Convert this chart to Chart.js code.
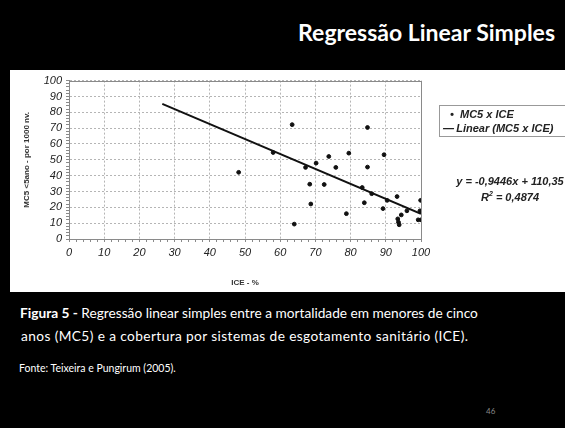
<!DOCTYPE html>
<html>
<head>
<meta charset="utf-8">
<script src="https://cdn.jsdelivr.net/npm/chart.js@4.4.1/dist/chart.umd.min.js"></script>
<style>
  html,body{margin:0;padding:0;background:#000;}
  body{width:565px;height:428px;position:relative;overflow:hidden;font-family:Lato,"Open Sans",sans-serif;}
  #title{position:absolute;right:10px;top:18px;color:#fff;font-weight:bold;font-size:23px;font-family:Lato,sans-serif;}
  #panel{position:absolute;left:10px;top:70px;width:555px;height:222px;background:#fff;}
  #cv{position:absolute;left:0;top:0;}
  #legend{position:absolute;left:429px;top:35px;width:130px;height:30px;border:1px solid #999;font:italic bold 11px "Liberation Sans",Arial,sans-serif;color:#222;}
  #legend div{position:absolute;white-space:nowrap;}
  #eq{position:absolute;left:440px;top:103px;width:120px;text-align:center;font:italic bold 11px "Liberation Sans",Arial,sans-serif;color:#222;line-height:16px;}
  .cap{position:absolute;color:#fff;font-size:13.7px;white-space:nowrap;}
  #pg{position:absolute;left:486px;top:406px;color:#888;font-size:8px;}
</style>
</head>
<body>
<div id="title">Regressão Linear Simples</div>
<div id="panel">
  <canvas id="cv" width="555" height="222"></canvas>
  <div id="legend">
    <div style="top:2px;left:10px;">•&nbsp;&nbsp;MC5 x ICE</div>
    <div style="top:16px;left:3px;">—&thinsp;Linear (MC5 x ICE)</div>
  </div>
  <div id="eq">y = -0,9446x + 110,35<br>R<sup style="font-size:7px;line-height:0">2</sup> = 0,4874</div>
</div>
<div class="cap" style="left:20px;top:304px;"><b>Figura 5 -</b> Regressão linear simples entre a mortalidade em menores de cinco</div>
<div class="cap" style="left:21px;top:327px;letter-spacing:0.4px;">anos (MC5) e a cobertura por sistemas de esgotamento sanitário (ICE).</div>
<div class="cap" style="left:19px;top:362px;font-size:10.5px;">Fonte: Teixeira e Pungirum (2005).</div>
<div id="pg">46</div>
<script>
// Data
const iceValues = [48.2,58.0,63.4,64.0,67.2,68.4,68.7,70.2,72.5,73.8,75.8,78.8,79.5,83.3,83.9,84.8,84.8,86.0,89.2,89.5,90.4,93.2,93.4,93.6,93.8,94.4,96.0,99.7,99.9,99.2,100.0];
const mc5Values = [42.1,54.6,72.2,9.4,45.2,34.6,22.1,47.9,34.4,52.1,45.2,16.0,54.2,32.5,22.9,70.4,45.4,28.6,19.2,53.2,24.4,26.8,12.7,10.6,9.0,15.2,17.8,17.8,24.4,12.1,12.1];
const trendX = [26.5, 100];
const trendY = [85.3, 15.9];
const xTickLabels = ['0','10','20','30','40','50','60','70','80','90','100'];
const yTickLabels = ['0','10','20','30','40','50','60','70','80','90','100'];

const scatterPts = iceValues.map((x,i)=>({x:x,y:mc5Values[i]}));
const trendPts = trendX.map((x,i)=>({x:x,y:trendY[i]}));

const frame = {
  id:'frame',
  afterDraw(chart){
    const a = chart.chartArea, c = chart.ctx;
    c.save(); c.strokeStyle='#8a8a8a'; c.lineWidth=1;
    c.strokeRect(Math.round(a.left)+0.5, Math.round(a.top)+0.5, Math.round(a.right-a.left), Math.round(a.bottom-a.top));
    c.restore();
  }
};
const isMajor = v => Math.abs(v % 10) < 1e-6;
const tickFont = {family:'"Liberation Sans", Arial, sans-serif', size:11, style:'italic', weight:'normal'};
function axis(labels, extra){
  return Object.assign({
    type:'linear', min:0, max:100,
    ticks:{stepSize:2, autoSkip:false, maxRotation:0, minRotation:0, color:'#222', font:tickFont, padding:4,
      callback:(v)=> isMajor(v) ? labels[Math.round(v/10)] : ''},
    grid:{color:(ctx)=> (ctx.tick && isMajor(ctx.tick.value)) ? '#b5b5b5' : 'rgba(0,0,0,0)',
      tickColor:'#8a8a8a', tickLength:3, lineWidth:1},
    border:{display:true, color:'#8a8a8a', dash:[2,2]}
  }, extra);
}
new Chart(document.getElementById('cv'), {
  type:'scatter',
  data:{datasets:[
    {label:'MC5 x ICE', data:scatterPts, backgroundColor:'#111', borderColor:'#111', pointRadius:1.9, pointHoverRadius:1.9},
    {label:'Linear (MC5 x ICE)', data:trendPts, type:'line', showLine:true, borderColor:'#111', borderWidth:2, pointRadius:0, fill:false}
  ]},
  options:{
    responsive:false, animation:false, devicePixelRatio:1,
    layout:{padding:{left:0, top:4, right:144, bottom:0}},
    plugins:{legend:{display:false}, tooltip:{enabled:false}},
    scales:{
      x: axis(xTickLabels, {
        title:{display:true, text:'ICE - %', color:'#333', font:{family:'"Liberation Sans", Arial, sans-serif', size:8, weight:'bold'}, padding:{top:14}},
        afterFit(s){ s.height = 53; }
      }),
      y: axis(yTickLabels, {
        title:{display:true, text:'MC5 <5ano - por 1000 nv.', color:'#333', font:{family:'"Liberation Sans", Arial, sans-serif', size:8, weight:'bold'}, padding:{top:12,bottom:0}},
        afterFit(s){ s.width = 59; }
      })
    }
  },
  plugins:[frame]
});
</script>
</body>
</html>
